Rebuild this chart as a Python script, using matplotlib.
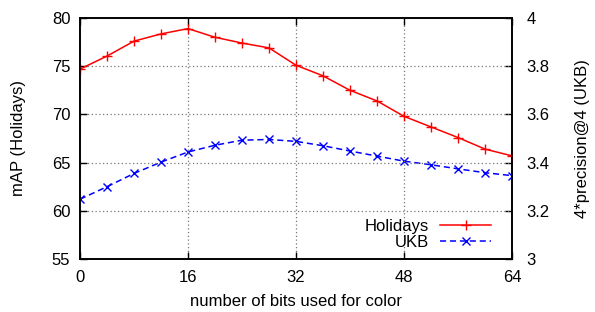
import matplotlib
matplotlib.use("Agg")
import matplotlib.pyplot as plt

plt.rcParams['font.family'] = ['Liberation Sans', 'DejaVu Sans']

bits = [0, 4, 8, 12, 16, 20, 24, 28, 32, 36, 40, 44, 48, 52, 56, 60, 64]
holidays = [74.7, 76.05, 77.6, 78.35, 78.9, 78.0, 77.4, 76.9, 75.1, 74.0, 72.5, 71.4,
            69.8, 68.7, 67.6, 66.4, 65.7]
ukb = [3.248, 3.30, 3.355, 3.402, 3.444, 3.472, 3.493, 3.496, 3.488, 3.47, 3.448,
       3.427, 3.406, 3.391, 3.374, 3.358, 3.346]
xticks = [0, 16, 32, 48, 64]
left_ticks = [55, 60, 65, 70, 75, 80]
right_ticks = [3, 3.2, 3.4, 3.6, 3.8, 4]
right_labels = ['3', '3.2', '3.4', '3.6', '3.8', '4']

fig = plt.figure(figsize=(5.95, 3.12), dpi=100)
ax = fig.add_axes([80/595, 53/312, 432/595, 241/312])
ax2 = ax.twinx()

fs = 12
l1, = ax.plot(bits, holidays, color='#ff0000', lw=1.1, marker='+', ms=7, mew=1.0,
              label='Holidays')
l2, = ax2.plot(bits, ukb, color='#0000ff', lw=1.1, ls=(0, (4, 2.5)), marker='x', ms=6,
               mew=1.0, label='UKB')

ax.set_xlim(0, 64)
ax.set_ylim(55, 80)
ax2.set_ylim(3, 4)
ax.set_xticks(xticks)
ax.set_yticks(left_ticks)
ax2.set_yticks(right_ticks)
ax2.set_yticklabels(right_labels)

ax.tick_params(axis='y', direction='in', labelsize=fs, length=5, width=1, pad=7)
ax.tick_params(axis='x', direction='in', labelsize=fs, length=5, width=1, pad=8,
               top=True)
ax2.tick_params(axis='y', direction='in', labelsize=fs, length=5, width=1, pad=10.5)
ax.grid(True, color='#777777', ls=(0, (1, 2)), lw=0.9)
for s in ax.spines.values():
    s.set_linewidth(1.2)
for s in ax2.spines.values():
    s.set_linewidth(1.2)

ax.set_xlabel('number of bits used for color', fontsize=fs)
ax.set_ylabel('mAP (Holidays)', fontsize=fs)
ax2.set_ylabel('4*precision@4 (UKB)', fontsize=fs)
ax.xaxis.label.set_va('center')
ax.yaxis.label.set_va('center')
ax2.yaxis.label.set_va('center')
ax.xaxis.set_label_coords(0.5, (259 - 301) / 241)
ax.yaxis.set_label_coords((18.5 - 80) / 432, 0.5)
ax2.yaxis.set_label_coords((582.5 - 80) / 432, 0.5)

leg = ax.legend([l1, l2], ['Holidays', 'UKB'], loc='lower right', markerfirst=False,
                frameon=False, fontsize=fs, handlelength=3.05, borderaxespad=0.0,
                borderpad=0.0, labelspacing=0.06, handletextpad=0.65,
                bbox_to_anchor=((491 - 80) / 432, (259 - 250) / 241))
for t in leg.get_texts():
    t.set_ha('right')
ax.set_zorder(ax2.get_zorder() + 1)
ax.patch.set_visible(False)

fig.savefig('out.png', dpi=100)
